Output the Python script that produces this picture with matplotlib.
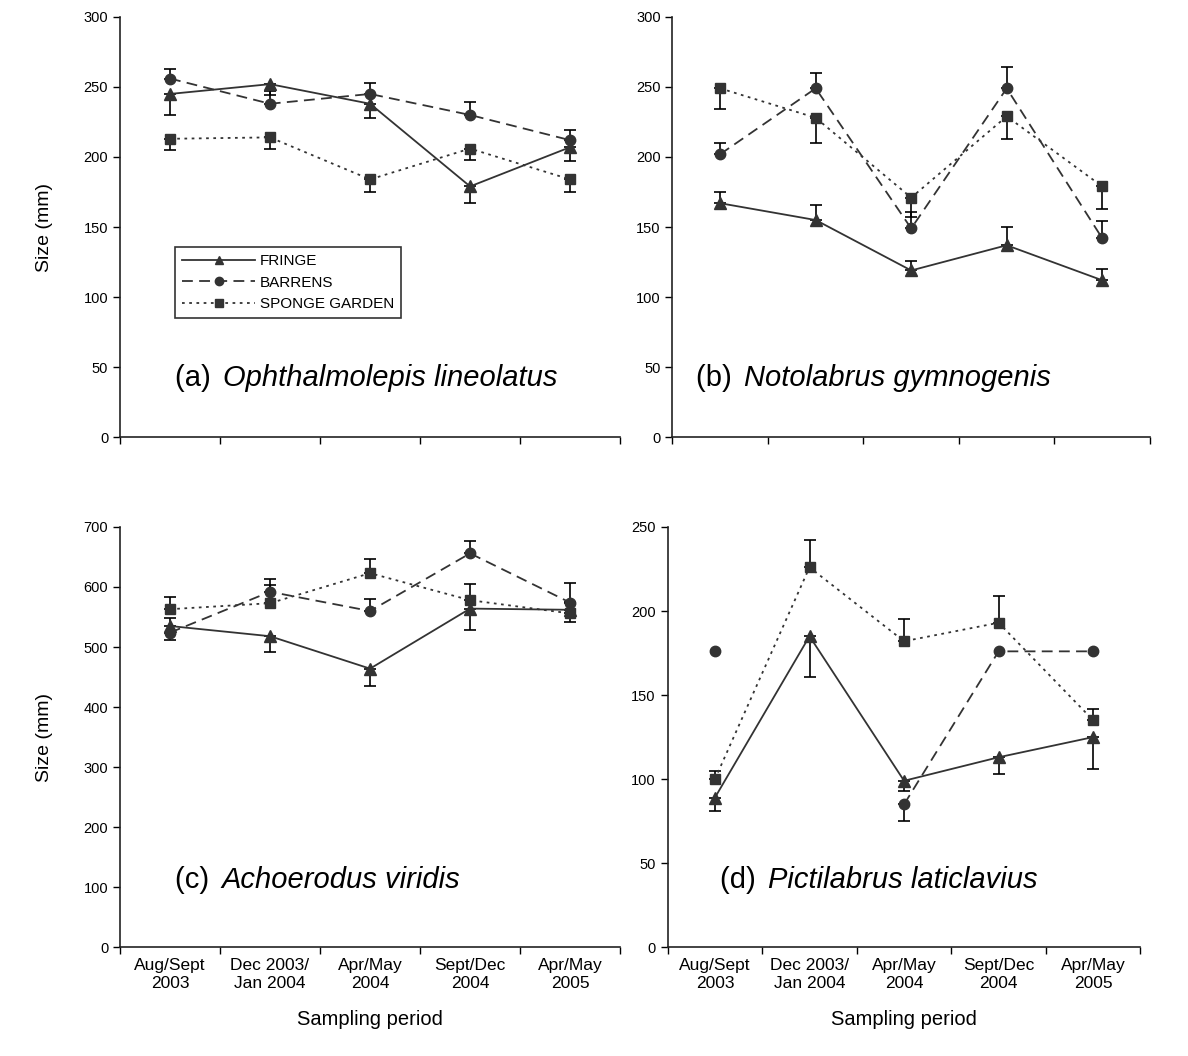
import matplotlib
matplotlib.use("Agg")
import matplotlib.pyplot as plt
import numpy as np

plt.rcParams['font.family'] = ['Liberation Sans', 'DejaVu Sans']

periods = ["Aug/Sept\n2003", "Dec 2003/\nJan 2004", "Apr/May\n2004",
           "Sept/Dec\n2004", "Apr/May\n2005"]
sites = ["FRINGE", "BARRENS", "SPONGE GARDEN"]

# (a) Ophthalmolepis lineolatus
a_fringe = [245, 252, 238, 179, 207]
a_fringe_se = [15, 8, 10, 12, 10]
a_barrens = [256, 238, 245, 230, 212]
a_barrens_se = [7, 9, 8, 9, 7]
a_sponge = [213, 214, 184, 206, 184]
a_sponge_se = [8, 8, 9, 8, 9]

# (b) Notolabrus gymnogenis
b_fringe = [167, 155, 119, 137, 112]
b_fringe_se = [8, 11, 7, 13, 8]
b_barrens = [202, 249, 149, 249, 142]
b_barrens_se = [8, 11, 12, 15, 12]
b_sponge = [249, 228, 171, 229, 179]
b_sponge_se = [15, 18, 14, 16, 16]

# (c) Achoerodus viridis
c_fringe = [535, 518, 464, 564, 562]
c_fringe_se = [24, 27, 29, 35, 21]
c_barrens = [524, 592, 560, 656, 574]
c_barrens_se = [24, 21, 20, 21, 32]
c_sponge = [563, 573, 623, 578, 556]
c_sponge_se = [21, 30, 24, 27, 19]

# (d) Pictilabrus laticlavius (no barrens fish in Dec/Jan)
d_fringe = [89, 185, 99, 113, 125]
d_fringe_se = [8, 24, 6, 10, 19]
d_barrens = [176, np.nan, 85, 176, 176]
d_barrens_se = [0, 0, 10, 0, 0]
d_sponge = [100, 226, 182, 193, 135]
d_sponge_se = [5, 16, 13, 16, 7]

panels = [
    ("(a) ", "Ophthalmolepis lineolatus", 300, 50,
     [(a_fringe, a_fringe_se, -1), (a_barrens, a_barrens_se, 1), (a_sponge, a_sponge_se, -1)]),
    ("(b) ", "Notolabrus gymnogenis", 300, 50,
     [(b_fringe, b_fringe_se, 1), (b_barrens, b_barrens_se, 1), (b_sponge, b_sponge_se, -1)]),
    ("(c) ", "Achoerodus viridis", 700, 100,
     [(c_fringe, c_fringe_se, -1), (c_barrens, c_barrens_se, 1), (c_sponge, c_sponge_se, 1)]),
    ("(d) ", "Pictilabrus laticlavius", 250, 50,
     [(d_fringe, d_fringe_se, -1), (d_barrens, d_barrens_se, -1), (d_sponge, d_sponge_se, 1)]),
]

styles = [
    dict(linestyle='-', marker='^', markersize=8),
    dict(linestyle=(0, (6, 3.5)), marker='o', markersize=7.5),
    dict(linestyle=(0, (1.5, 2.5)), marker='s', markersize=7),
]
dark = '#333333'

fig = plt.figure(figsize=(11.88, 10.56), dpi=100)
rects = [
    [0.101, 0.586, 0.421, 0.398],
    [0.566, 0.586, 0.402, 0.398],
    [0.101, 0.103, 0.421, 0.398],
    [0.562, 0.103, 0.398, 0.398],
]

x = np.arange(5) + 0.5
for i, (tag, species, ymax, ystep, series) in enumerate(panels):
    ax = fig.add_axes(rects[i])
    handles = []
    for (vals, se, sign), st, name in zip(series, styles, sites):
        vals = np.array(vals, dtype=float)
        se = np.array(se, dtype=float)
        h, = ax.plot(x, vals, color=dark, lw=1.3, markeredgecolor=dark,
                     markerfacecolor=dark, label=name, zorder=3, **st)
        handles.append(h)
        keep = (se > 0) & ~np.isnan(vals)
        lower = np.where(sign < 0, se, 0)[keep]
        upper = np.where(sign > 0, se, 0)[keep]
        ax.errorbar(x[keep], vals[keep], yerr=[lower, upper], fmt='none',
                    ecolor='black', elinewidth=1.2, capsize=4.5, capthick=1.2,
                    zorder=2)

    ax.set_xlim(0, 5)
    ax.set_ylim(0, ymax)
    ax.set_yticks(np.arange(0, ymax + 1, ystep))
    ax.set_xticks(np.arange(6))
    ax.set_xticklabels([])
    ax.set_xticks(x, minor=True)
    if i >= 2:
        ax.set_xticklabels(periods, minor=True)
        ax.set_xlabel("Sampling period", fontsize=14.5, labelpad=14)
    ax.tick_params(axis='x', which='minor', length=0, labelsize=12.5, pad=8)
    ax.tick_params(axis='x', which='major', length=5, width=1, direction='out')
    ax.tick_params(axis='y', length=5, width=1, direction='out', labelsize=10.5)
    for s in ['top', 'right']:
        ax.spines[s].set_visible(False)
    for s in ['left', 'bottom']:
        ax.spines[s].set_color('#222222')
        ax.spines[s].set_linewidth(1.2)
    if i % 2 == 0:
        ax.set_ylabel("Size (mm)", fontsize=14, labelpad=22)

    lx = 0.11 if i != 1 else 0.05
    ly = 0.14 if i < 2 else 0.16
    ax.text(lx, ly, tag, transform=ax.transAxes, fontsize=21, va='center')
    ax.annotate(species, xy=(1, 0.5), xycoords=ax.texts[-1], fontsize=21,
                style='italic', va='center', ha='left', xytext=(3, 0),
                textcoords='offset points')

    if i == 0:
        leg = ax.legend(handles=handles, loc='upper left',
                        bbox_to_anchor=(0.095, 0.47), frameon=True, fancybox=False,
                        edgecolor='black', handlelength=4.8,
                        markerscale=0.8, borderpad=0.45, labelspacing=0.5,
                        handletextpad=0.3,
                        prop={'family': ['Liberation Sans Narrow', 'Liberation Sans'],
                              'size': 11})
        leg.get_frame().set_linewidth(1.2)

fig.savefig("out.png", dpi=100)
